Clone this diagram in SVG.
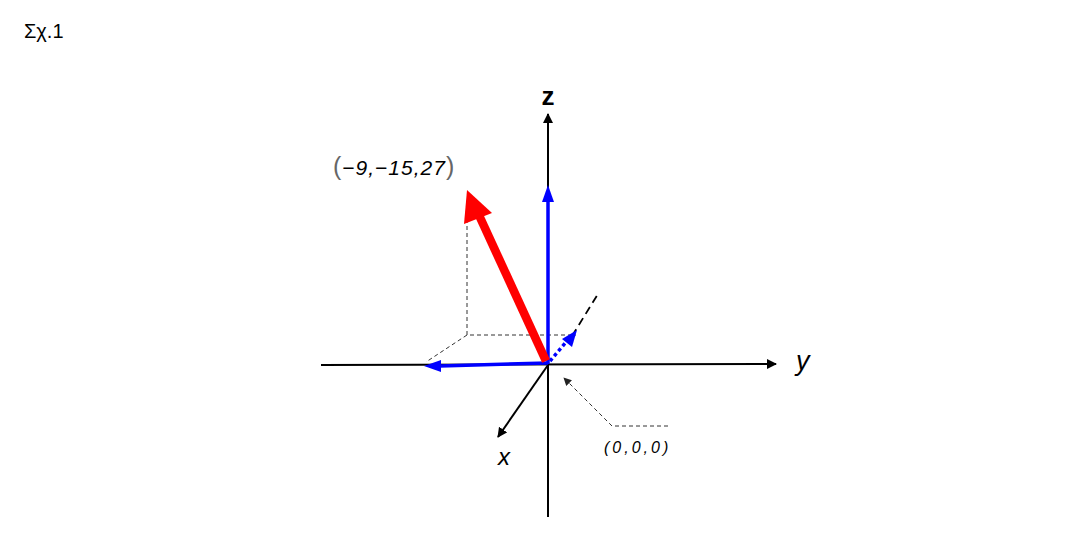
<svg xmlns="http://www.w3.org/2000/svg" width="1087" height="545" viewBox="0 0 1087 545">
<defs>
<marker id="ab" viewBox="0 0 10 10" refX="9" refY="5" markerWidth="10" markerHeight="10" markerUnits="userSpaceOnUse" orient="auto"><path d="M0,0 L10,5 L0,10 z" fill="#000"/></marker>
<marker id="ab2" viewBox="0 0 10 10" refX="9" refY="5" markerWidth="8" markerHeight="8" markerUnits="userSpaceOnUse" orient="auto"><path d="M0,0 L10,5 L0,10 z" fill="#222"/></marker>
</defs>
<style>
.ax{stroke:#000;stroke-width:2;fill:none}
.dash{stroke:#333;stroke-width:1;stroke-dasharray:4 3;fill:none}
.blue{stroke:#0000ff;stroke-width:3.5;fill:none}
.bh{fill:#0000ff}
.t{font-family:"Liberation Sans",Arial,sans-serif;fill:#000}
</style>
<rect width="1087" height="545" fill="#fff"/>
<text class="t" x="24" y="38" font-size="20">Σχ.1</text>
<g id="connectors">
<line class="ax" x1="321" y1="365" x2="776" y2="364" marker-end="url(#ab)"/>
<line class="ax" x1="548" y1="517" x2="548" y2="114" marker-end="url(#ab)"/>
<line class="ax" x1="548" y1="365" x2="498" y2="437" marker-end="url(#ab)"/>
<line x1="572" y1="336" x2="598" y2="294" stroke="#000" stroke-width="1.8" stroke-dasharray="8 5"/>
<path class="dash" d="M467,205 L467,335 L576,335 M467,335 L426,362"/>
<path class="dash" d="M668,426 L612,426 L564,378" marker-end="url(#ab2)"/>
<line class="blue" x1="548" y1="364" x2="548" y2="200"/>
<polygon class="bh" points="548,185 542,202 554,202"/>
<line class="blue" x1="548" y1="363" x2="440" y2="366"/>
<polygon class="bh" points="424,366 441,360 441,372"/>
<line x1="550" y1="361" x2="567" y2="341" stroke="#0000ff" stroke-width="3.5" stroke-dasharray="3.5 3"/>
<polygon class="bh" points="577,330 572,347 562,339"/>
<line x1="546" y1="361" x2="478" y2="213" stroke="#ff0000" stroke-width="8.5"/>
<polygon points="467,190 492,213 464,224" fill="#ff0000"/>
</g>
<g id="label-z"><text class="t" x="548" y="105" font-size="26" font-weight="bold" text-anchor="middle">z</text></g>
<g id="label-y"><text class="t" x="796" y="370" font-size="27" font-style="italic" fill="#222">y</text></g>
<g id="label-x"><text class="t" x="504" y="465" font-size="24" font-style="italic" text-anchor="middle" fill="#222">x</text></g>
<g id="label-point"><text class="t" x="333" y="175" font-size="21" font-style="italic" letter-spacing="1" fill="#222"><tspan font-style="normal" font-size="25" fill="#666">(</tspan>−9,−15,27<tspan font-style="normal" font-size="25" fill="#666">)</tspan></text></g>
<g id="label-origin"><text class="t" x="604" y="453" font-size="16" font-style="italic" letter-spacing="3" fill="#222">(0,0,0)</text></g>
</svg>
